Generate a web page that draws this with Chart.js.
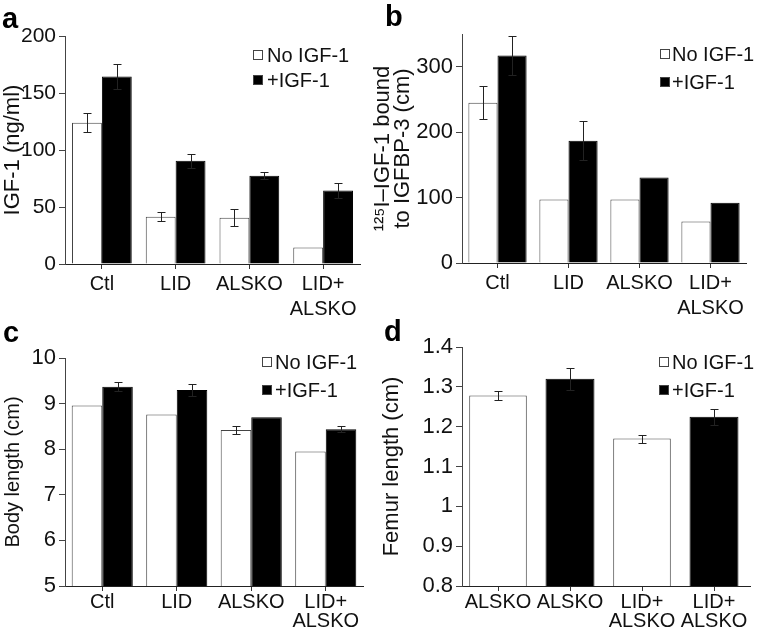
<!DOCTYPE html>
<html>
<head>
<meta charset="utf-8">
<script src="https://cdn.jsdelivr.net/npm/chart.js@4.4.1/dist/chart.umd.min.js"></script>
<style>
  body { margin:0; background:#fff; }
  #wrap { position:relative; width:760px; height:631px; overflow:hidden; }
  canvas { position:absolute; }
  .tag { position:absolute; font-family:'Liberation Sans', Arial, sans-serif; font-weight:bold; font-size:29px; line-height:1; color:#000; }
</style>
</head>
<body>
<div id="wrap">
  <canvas id="cA" style="left:0;top:0" width="380" height="318"></canvas>
  <canvas id="cB" style="left:370px;top:0" width="390" height="318"></canvas>
  <canvas id="cC" style="left:0;top:316px" width="380" height="315"></canvas>
  <canvas id="cD" style="left:370px;top:316px" width="390" height="315"></canvas>
  <div class="tag" style="left:2px;top:4px">a</div>
  <div class="tag" style="left:385px;top:2px">b</div>
  <div class="tag" style="left:3px;top:318px">c</div>
  <div class="tag" style="left:384px;top:317px">d</div>
</div>
<script>
// ---------- data ----------
var groups = ['Ctl', 'LID', 'ALSKO', ['LID+', 'ALSKO']];
var groupsD = ['ALSKO', 'ALSKO', ['LID+', 'ALSKO'], ['LID+', 'ALSKO']];
var seriesNames = ['No IGF-1', '+IGF-1'];

// a: IGF-1 (ng/ml)
var noIgfA = [124, 41.5, 40.5, 14.5];
var noIgfErrA = [8.5, 4, 7.5, 0];
var plusIgfA = [164.5, 90.5, 77.5, 64.5];
var plusIgfErrA = [11, 6, 3, 6.5];
var ticksA = [0, 50, 100, 150, 200];

// b: 125I-IGF-1 bound to IGFBP-3
var noIgfB = [245, 97, 97, 63.5];
var noIgfErrB = [25.5, 0, 0, 0];
var plusIgfB = [317, 187, 130.5, 92];
var plusIgfErrB = [30, 30, 0, 0];
var ticksB = [0, 100, 200, 300];

// c: body length (cm)
var noIgfC = [8.96, 8.76, 8.42, 7.95];
var noIgfErrC = [0, 0, 0.08, 0];
var plusIgfC = [9.37, 9.30, 8.70, 8.44];
var plusIgfErrC = [0.10, 0.13, 0, 0.06];
var ticksC = [5, 6, 7, 8, 9, 10];

// d: femur length (cm)
var noIgfD = [1.278, null, 1.17, null];
var noIgfErrD = [0.011, 0, 0.01, 0];
var plusIgfD = [null, 1.32, null, 1.225];
var plusIgfErrD = [0, 0.028, 0, 0.02];
var ticksD = [0.8, 0.9, 1.0, 1.1, 1.2, 1.3, 1.4];

Chart.defaults.font.family = "'Liberation Sans', Arial, sans-serif";
Chart.defaults.font.size = 20;
Chart.defaults.color = '#111';

// error bars drawn through the y scale
var errorBars = {
  id: 'errorBars',
  afterDatasetsDraw: function(chart) {
    var ctx = chart.ctx;
    var y = chart.scales.y;
    ctx.save();
    ctx.strokeStyle = '#222';
    ctx.lineWidth = 1;
    chart.data.datasets.forEach(function(ds, di) {
      var meta = chart.getDatasetMeta(di);
      ds.data.forEach(function(v, i) {
        var e = ds.errors ? ds.errors[i] : 0;
        if (v === null || !e) return;
        var x = Math.round(meta.data[i].x) + 0.5;
        var top = Math.round(y.getPixelForValue(v + e)) + 0.5;
        var bot = Math.round(y.getPixelForValue(v - e)) + 0.5;
        ctx.beginPath();
        ctx.moveTo(x, top); ctx.lineTo(x, bot);
        ctx.moveTo(x - 4, top); ctx.lineTo(x + 4, top);
        ctx.moveTo(x - 4, bot); ctx.lineTo(x + 4, bot);
        ctx.stroke();
      });
    });
    ctx.restore();
  }
};

// small legend inside the plot, top right
var boxLegend = {
  id: 'boxLegend',
  afterDraw: function(chart, args, opts) {
    var ctx = chart.ctx;
    ctx.save();
    ctx.font = "20px 'Liberation Sans', Arial, sans-serif";
    ctx.textBaseline = 'middle';
    chart.data.datasets.forEach(function(ds, i) {
      var ry = opts.rows[i];
      ctx.fillStyle = ds.backgroundColor;
      ctx.fillRect(opts.x, ry - 5, 10, 10);
      ctx.strokeStyle = '#444';
      ctx.strokeRect(opts.x + 0.5, ry - 4.5, 9, 9);
      ctx.fillStyle = '#111';
      ctx.fillText(ds.label, opts.textX, ry + 1);
    });
    ctx.restore();
  }
};

function makeDatasets(noVals, noErr, plusVals, plusErr) {
  return [
    { label: seriesNames[0], data: noVals, errors: noErr, backgroundColor: '#fff', borderColor: '#444', borderWidth: 1 },
    { label: seriesNames[1], data: plusVals, errors: plusErr, backgroundColor: '#000', borderColor: '#000', borderWidth: 1 }
  ];
}

function makeChart(id, labels, datasets, cfg) {
  var tickVals = cfg.ticks;
  return new Chart(document.getElementById(id), {
    type: 'bar',
    data: { labels: labels, datasets: datasets },
    options: {
      responsive: false,
      animation: false,
      layout: { padding: cfg.padding },
      datasets: { bar: { categoryPercentage: cfg.catPct, barPercentage: 1, grouped: cfg.grouped } },
      plugins: {
        legend: { display: false },
        tooltip: { enabled: false },
        boxLegend: cfg.legend
      },
      scales: {
        x: {
          grid: { display: true, offset: false, drawOnChartArea: false, tickLength: 5, color: '#333' },
          border: { color: '#222', width: 1 },
          ticks: { padding: cfg.xPad, font: { size: 20, lineHeight: cfg.xLH }, maxRotation: 0, autoSkip: false },
          afterFit: function(axis) { axis.height = cfg.xHeight; }
        },
        y: {
          min: tickVals[0],
          max: cfg.max,
          grid: { display: true, drawOnChartArea: false, tickLength: 6, color: '#444' },
          border: { color: '#444', width: 1 },
          ticks: {
            stepSize: tickVals[1] - tickVals[0],
            padding: 3,
            font: { size: cfg.tickSize },
            callback: function(v) { return String(parseFloat(Number(v).toFixed(2))); }
          },
          afterBuildTicks: function(axis) {
            axis.ticks = axis.ticks.filter(function(t) {
              return tickVals.some(function(k) { return Math.abs(k - t.value) < 1e-6; });
            });
          },
          afterFit: function(axis) { axis.width = cfg.yWidth; },
          title: { display: true, text: cfg.title, padding: { top: cfg.titlePad, bottom: 0 }, font: { size: cfg.titleSize, lineHeight: cfg.titleLH } }
        }
      }
    },
    plugins: [errorBars, boxLegend]
  });
}

makeChart('cA', groups, makeDatasets(noIgfA, noIgfErrA, plusIgfA, plusIgfErrA), {
  ticks: ticksA, max: 200, catPct: 0.81, grouped: true, tickSize: 21,
  padding: { left: 0, right: 20, top: 36, bottom: 0 },
  yWidth: 65, xHeight: 54, xPad: 3, xLH: 1.25,
  title: 'IGF-1 (ng/ml)', titlePad: 0, titleSize: 22, titleLH: 1.15,
  legend: { x: 253, textX: 267, rows: [55, 80] }
});

makeChart('cB', groups, makeDatasets(noIgfB, noIgfErrB, plusIgfB, plusIgfErrB), {
  ticks: ticksB, max: 350, catPct: 0.82, grouped: true, tickSize: 22,
  padding: { left: 0, right: 14, top: 34, bottom: 0 },
  yWidth: 92, xHeight: 55, xPad: 3, xLH: 1.25,
  title: ['\u00b9\u00b2\u2075I\u2013IGF-1 bound', 'to IGFBP-3 (cm)'], titlePad: 2, titleSize: 22, titleLH: 0.95,
  legend: { x: 290, textX: 302, rows: [54, 82] }
});

makeChart('cC', groups, makeDatasets(noIgfC, noIgfErrC, plusIgfC, plusIgfErrC), {
  ticks: ticksC, max: 10, catPct: 0.82, grouped: true, tickSize: 22,
  padding: { left: 0, right: 17, top: 42, bottom: 0 },
  yWidth: 65, xHeight: 45, xPad: 2, xLH: 0.95,
  title: 'Body length (cm)', titlePad: 1, titleSize: 20, titleLH: 1.2,
  legend: { x: 262, textX: 275, rows: [46, 74] }
});

var dsD = makeDatasets(noIgfD, noIgfErrD, plusIgfD, plusIgfErrD);
dsD[0].barPercentage = 0.8;
dsD[1].barPercentage = 0.68;
makeChart('cD', groupsD, dsD, {
  ticks: ticksD, max: 1.4, catPct: 1, grouped: false, tickSize: 22,
  padding: { left: 0, right: 10, top: 31, bottom: 0 },
  yWidth: 92, xHeight: 45, xPad: 2, xLH: 0.95,
  title: 'Femur length (cm)', titlePad: 9, titleSize: 22, titleLH: 1.2,
  legend: { x: 289, textX: 302, rows: [46, 74] }
});
</script>
</body>
</html>
